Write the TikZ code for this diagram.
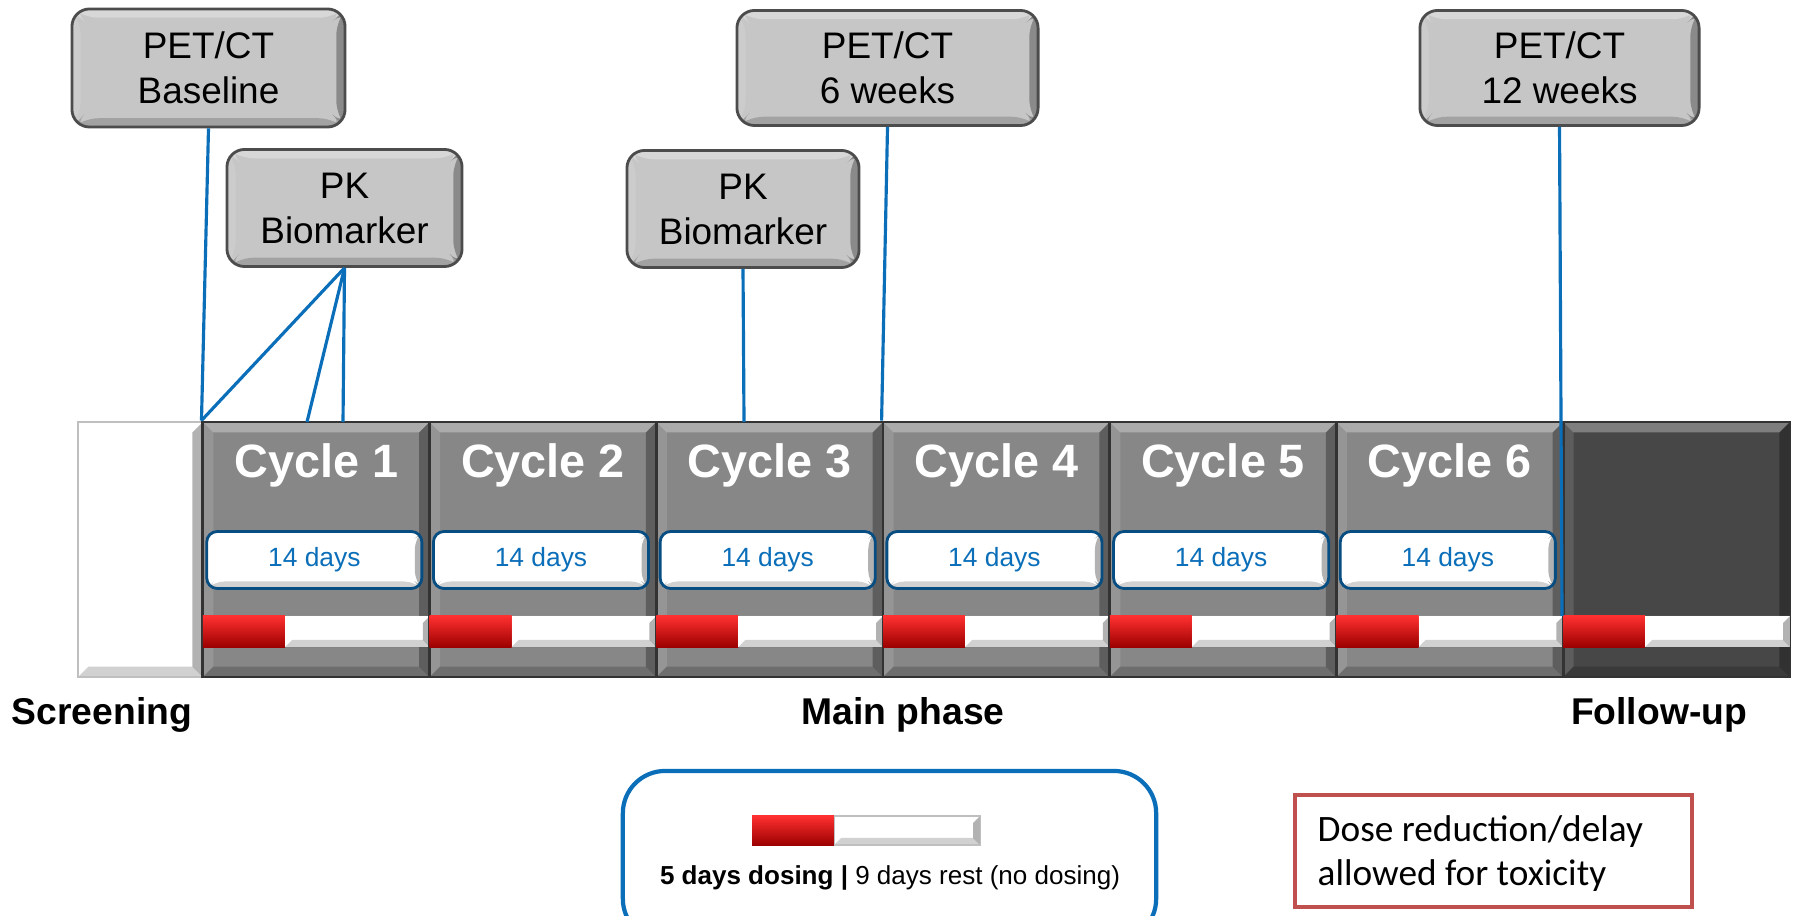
\documentclass[tikz,border=0pt]{standalone}
\usepackage{fontspec}
\setmainfont{Liberation Sans}
\newfontfamily\notefont{Carlito}
\usetikzlibrary{positioning}

\definecolor{linkblue}{HTML}{0B6EB9}
\definecolor{cycgray}{HTML}{878787}
\definecolor{fugray}{HTML}{474747}
\definecolor{notered}{HTML}{C0504D}
\definecolor{doselight}{HTML}{FF3030}
\definecolor{dosemid}{HTML}{DD0808}
\definecolor{dosedark}{HTML}{9C0000}

\tikzset{
  bevel/.style={path picture={
    \coordinate (bNW) at (path picture bounding box.north west);
    \coordinate (bNE) at (path picture bounding box.north east);
    \coordinate (bSW) at (path picture bounding box.south west);
    \coordinate (bSE) at (path picture bounding box.south east);
    \fill[white, opacity=.3] (bNW) -- (bNE) -- ([shift={(-#1,-#1)}]bNE) -- ([shift={(#1,-#1)}]bNW) -- cycle;
    \fill[white, opacity=.12] (bNW) -- (bSW) -- ([shift={(#1,#1)}]bSW) -- ([shift={(#1,-#1)}]bNW) -- cycle;
    \fill[black, opacity=.3] (bNE) -- (bSE) -- ([shift={(-#1,#1)}]bSE) -- ([shift={(-#1,-#1)}]bNE) -- cycle;
    \fill[black, opacity=.18] (bSW) -- (bSE) -- ([shift={(-#1,#1)}]bSE) -- ([shift={(#1,#1)}]bSW) -- cycle;
  }},
  bevel/.default=3pt
}

\begin{document}
\begin{tikzpicture}[x=0.01cm,y=-0.01cm,
    exam/.style={draw=gray!60!black, line width=0.8pt, rounded corners=5pt,
      fill=gray!45, bevel=2.5pt, align=center,
      font=\fontsize{10.5}{12.8}\selectfont, inner sep=0pt},
    cycbox/.style={draw=gray!40!black, line width=0.8pt, fill=cycgray, bevel,
      minimum width=2.267cm, minimum height=2.55cm, inner sep=0pt},
    cyctitle/.style={text=white, font=\fontsize{13.3}{15}\selectfont\bfseries},
    daybox/.style={draw=linkblue!70!black, line width=0.8pt, rounded corners=3pt,
      fill=white, bevel=2pt,
      minimum width=2.15cm, minimum height=0.57cm, inner sep=0pt,
      text=linkblue, font=\fontsize{7.5}{9}\selectfont},
    dosered/.style={top color=doselight, middle color=dosemid,
      bottom color=dosedark, minimum height=0.31cm, inner sep=0pt,
      outer sep=0pt, anchor=west},
    restbar/.style={fill=white, bevel=2pt,
      minimum height=0.31cm, inner sep=0pt, outer sep=0pt, anchor=west},
    phase/.style={font=\fontsize{10.6}{12}\selectfont\bfseries},
    link/.style={linkblue, line width=0.9pt}]

  \useasboundingbox (0,0) rectangle (1795,916);

  % exams above the timeline
  \node[exam, minimum width=2.73cm, minimum height=1.18cm] (petbase) at (208.5,68) {PET/CT\\Baseline};
  \node[exam, minimum width=2.35cm, minimum height=1.17cm] (pk1) at (344.5,208) {PK\\Biomarker};
  \node[exam, minimum width=2.32cm, minimum height=1.17cm] (pk2) at (743,209) {PK\\Biomarker};
  \node[exam, minimum width=3.01cm, minimum height=1.15cm] (pet6) at (887.5,68) {PET/CT\\6 weeks};
  \node[exam, minimum width=2.79cm, minimum height=1.15cm] (pet12) at (1559.5,68) {PET/CT\\12 weeks};

  % screening
  \node[cycbox, fill=white, draw=gray!50, minimum width=1.25cm] (scr) at (140.5,549.5) {};

  % cycles
  \foreach \i in {1,...,6} {
    \pgfmathsetmacro\cx{316.3+226.7*(\i-1)}
    \pgfmathsetmacro\lx{\cx-113.35}
    \node[cycbox] (cyc\i) at (\cx,549.5) {};
    \node[cyctitle] (ttl\i) at (\cx,465) {Cycle \i};
    \node[daybox] (day\i) at (\cx-2,560) {14 days};
    \node[dosered, minimum width=0.82cm] (dose\i) at (\lx,631.5) {};
    \node[restbar, minimum width=1.447cm] (rest\i) at (dose\i.east) {};
  }

  % follow-up
  \node[cycbox, fill=fugray, draw=black!80] (fu) at (1676.5,549.5) {};
  \node[dosered, minimum width=0.82cm] (dose7) at (1563,631.5) {};
  \node[restbar, minimum width=1.45cm] (rest7) at (dose7.east) {};

  \node[phase] (scrlbl) at (102,715) {Screening};
  \node[phase] (mainlbl) at (903,715) {Main phase};
  \node[phase] (fulbl) at (1659,715) {Follow-up};

  % connectors
  \coordinate (pkA) at (307,422);
  \coordinate (pkB) at (343,422);
  \coordinate (pkC) at (744,422);
  \coordinate (fuA) at (1562,616);
  \draw[link] (petbase.south) -- (cyc1.north west);
  \draw[link] (pk1.south) -- (cyc1.north west);
  \draw[link] (pk1.south) -- (pkA);
  \draw[link] (pk1.south) -- (pkB);
  \draw[link] (pk2.south) -- (pkC);
  \draw[link] (pet6.south) -- (cyc4.north west);
  \draw[link] (pet12.south) -- (fuA);

  % legend
  \node[draw=linkblue, line width=1.2pt, rounded corners=12pt,
    minimum width=5.33cm, minimum height=1.7cm] (leg) at (889.5,856) {};
  \node[dosered, minimum width=0.82cm, minimum height=0.29cm] (legdose) at (752,830.5) {};
  \node[restbar, minimum width=1.46cm, minimum height=0.29cm, draw=gray!50, line width=0.3pt] (legrest) at (legdose.east) {};
  \node[font=\fontsize{7.4}{9}\selectfont] (legtxt) at (890,878)
    {\textbf{5 days dosing |} 9 days rest (no dosing)};

  % note
  \node[draw=notered, line width=1.1pt, minimum width=3.97cm, minimum height=1.12cm] (note) at (1493.5,851) {};
  \node[anchor=west, align=left, inner sep=0pt, font=\notefont\fontsize{10.6}{12.5}\selectfont] (notetxt) at (1317,854)
    {Dose reduction/delay\\allowed for toxicity};
\end{tikzpicture}
\end{document}
